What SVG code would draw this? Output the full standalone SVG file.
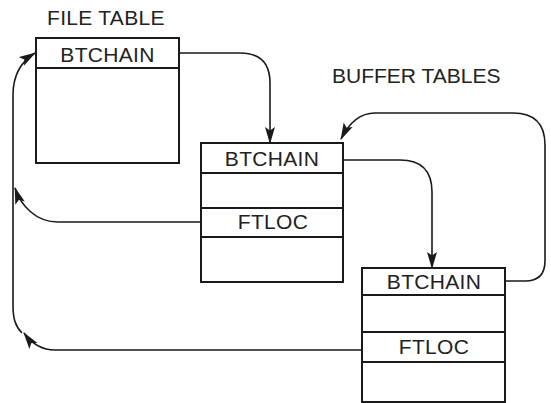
<svg xmlns="http://www.w3.org/2000/svg" width="551" height="403" viewBox="0 0 551 403">
<style>
.box{fill:#fff;stroke:#1a1a1a;stroke-width:2}
.div{stroke:#1a1a1a;stroke-width:2}
.lbl{font-family:"Liberation Sans",Arial,sans-serif;font-size:21px;fill:#222;letter-spacing:0.3px}
.c{text-anchor:middle}
.conn path{fill:none;stroke:#1a1a1a;stroke-width:1.6}
</style>
<defs>
<marker id="ah" viewBox="0 0 17 11" refX="16" refY="5.5" markerWidth="17" markerHeight="11" markerUnits="userSpaceOnUse" orient="auto">
<path d="M0,0.5 L17,5.5 L0,10.5 L3.5,5.5 z" fill="#1a1a1a"/>
</marker>
</defs>
<rect width="551" height="403" fill="#fff"/>
<text class="lbl" x="47" y="25">FILE TABLE</text>
<text class="lbl" x="332" y="83" style="letter-spacing:0">BUFFER TABLES</text>
<g id="file-table">
<rect class="box" x="36" y="38" width="143" height="125"/>
<line class="div" x1="36" y1="68" x2="179" y2="68"/>
<text class="lbl c" x="107.5" y="62">BTCHAIN</text>
</g>
<g id="buffer-table-1">
<rect class="box" x="201" y="143" width="142" height="139"/>
<line class="div" x1="201" y1="173" x2="343" y2="173"/>
<line class="div" x1="201" y1="208" x2="343" y2="208"/>
<line class="div" x1="201" y1="237" x2="343" y2="237"/>
<text class="lbl c" x="272" y="166">BTCHAIN</text>
<text class="lbl c" x="273" y="229">FTLOC</text>
</g>
<g id="buffer-table-2">
<rect class="box" x="362" y="268" width="143" height="134"/>
<line class="div" x1="362" y1="295" x2="505" y2="295"/>
<line class="div" x1="362" y1="332" x2="505" y2="332"/>
<line class="div" x1="362" y1="362" x2="505" y2="362"/>
<text class="lbl c" x="434" y="289">BTCHAIN</text>
<text class="lbl c" x="434" y="354">FTLOC</text>
</g>
<g class="conn" id="connectors">
<path d="M179,53 H240 Q270,53 270,83 V143" marker-end="url(#ah)"/>
<path d="M343,160 H400 Q432,160 432,192 V268" marker-end="url(#ah)"/>
<path d="M505,281 H525 Q545,281 545,261 V145 Q545,113 513,113 H375 C360,113 349,123 341,139" marker-end="url(#ah)"/>
<path d="M201,222 H58 C36,222 21,206 15,188" marker-end="url(#ah)"/>
<path d="M362,350 H55 C42,350 32,344 24,333" marker-end="url(#ah)"/>
<path d="M22,333 C15,326 13,318 13,305 V95 C13,73 22,61 35,53" marker-end="url(#ah)"/>
</g>
</svg>
